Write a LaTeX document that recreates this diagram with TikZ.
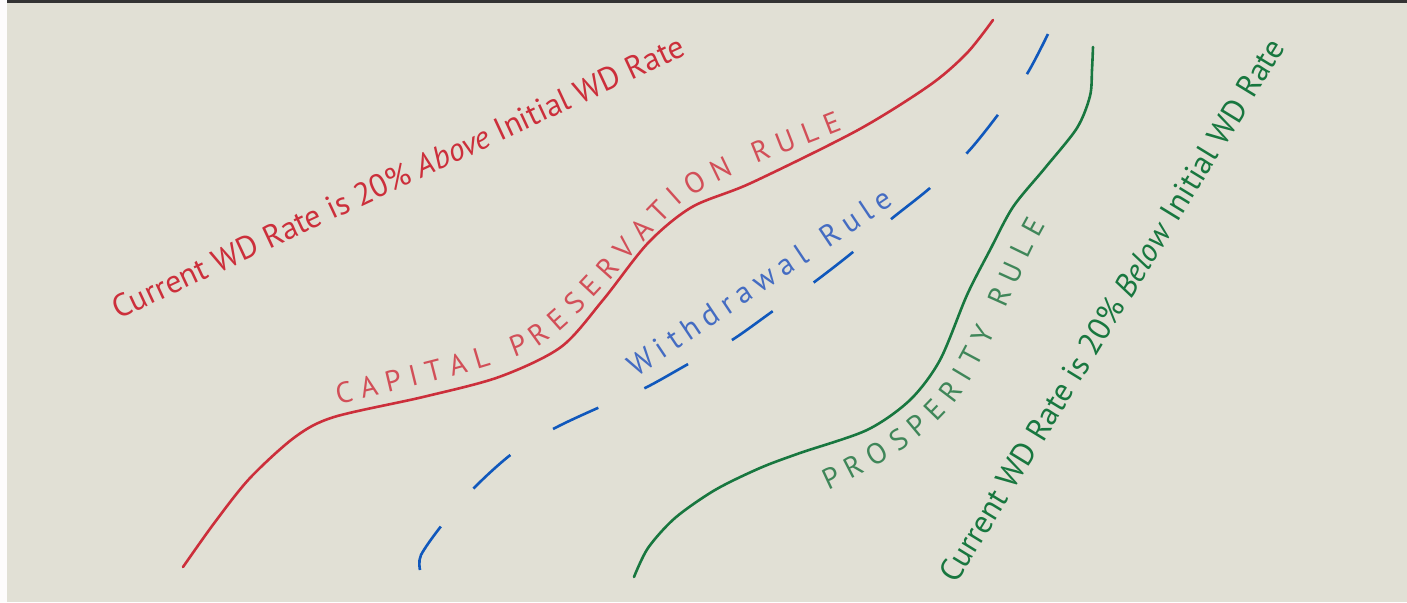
\documentclass[tikz,border=0pt]{standalone}
\usepackage{fontspec}
\setmainfont{PT Sans}
\usetikzlibrary{decorations.text}

\definecolor{paper}{HTML}{E1E0D5}
\definecolor{capred}{HTML}{CC2F3B}
\definecolor{capredtxt}{HTML}{D24F58}
\definecolor{wdblue}{HTML}{1058BC}
\definecolor{wdbluetxt}{HTML}{446CC2}
\definecolor{prosgreen}{HTML}{18773F}
\definecolor{prosgreentxt}{HTML}{3F8659}

% picture is drawn at a quarter of the pixel size
\newcommand{\bandfont}{\fontsize{8.0}{8.0}\selectfont}
\newcommand{\rulefont}{\fontsize{7.3}{7.3}\selectfont}

\tikzset{
  guardrail/.style={line width=0.65pt, line cap=round},
  guardtext/.style={decorate, decoration={text along path, text align=fit to path, text={#1}}}
}

\begin{document}
\begin{tikzpicture}[x=0.25pt,y=-0.25pt]
  \useasboundingbox (0,0) rectangle (1407,602);
  \fill[white!92!paper] (0,0) rectangle (7,602);
  \fill[paper] (7,3) rectangle (1407,602);
  \fill[black!80] (7,0) rectangle (1407,3);

  % upper band
  \draw[guardrail,capred] plot[smooth] coordinates {(183,567) (215,522) (250,478) (295,437) (334,417)
    (423,397) (499,377) (561,347) (603,300) (648,243) (692,207) (751,183) (858,130) (930,85) (967,53) (993,20)};
  \node[rotate=25,anchor=base,text=capred,font=\bandfont] (abovetxt) at (403,187)
    {Current WD Rate is 20\% \textit{Above} Initial WD Rate};
  \path[guardtext={|\rulefont\color{capredtxt}|CAPITAL PRESERVATION RULE}]
    (338,404) .. controls (400,390) and (480,372) .. (530,352)
    .. controls (580,325) and (640,240) .. (682,203)
    .. controls (720,175) and (780,155) .. (843,130);

  % withdrawal rule
  \draw[guardrail,wdblue,line cap=butt,dash pattern=on 12.5pt off 12.5pt] plot[smooth] coordinates {(420,570) (421,555)
    (442,525) (475,487) (513,453) (555,428) (600,407) (645,388) (690,363) (732,340) (773,311) (813,283)
    (853,252) (890,220) (930,188) (967,153) (997,116) (1027,74) (1048,34)};
  \path[guardtext={|\fontsize{7.6}{7.6}\selectfont\color{wdbluetxt}|Withdrawal Rule}] (636,377) -- (895,204);

  % lower band
  \draw[guardrail,prosgreen] plot[smooth] coordinates {(634,577) (648,548) (675,518) (715,490) (760,468)
    (800,453) (867,430) (910,400) (940,360) (967,295) (990,250) (1013,207) (1045,168) (1077,128)
    (1090,96) (1092,70) (1093,47)};
  \path[guardtext={|\rulefont\color{prosgreentxt}|PROSPERITY RULE}]
    (828,490) .. controls (890,462) and (940,430) .. (970,380)
    .. controls (1000,330) and (1020,270) .. (1046,225);
  \node[rotate=58.5,anchor=base,text=prosgreen,font=\bandfont] (belowtxt) at (1121,316)
    {Current WD Rate is 20\% \textit{Below} Initial WD Rate};
\end{tikzpicture}
\end{document}
